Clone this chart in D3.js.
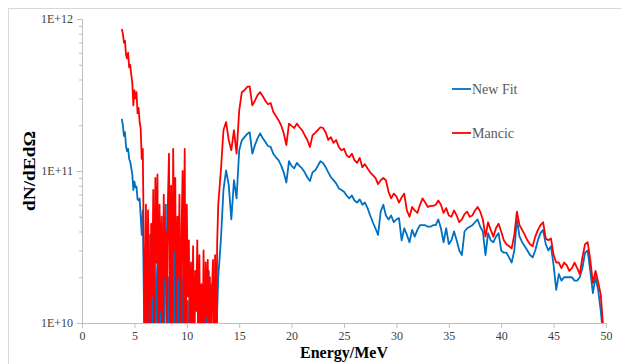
<!DOCTYPE html>
<html><head><meta charset="utf-8">
<script src="https://cdn.jsdelivr.net/npm/d3@7/dist/d3.min.js"></script>
<style>body{margin:0;background:#fff}svg{display:block}</style>
</head><body>
<script>
// ---- data (values in units of 1E+10) ----
const UNIT = 1e10;
const segA = {start: 3.8, step: 0.1};
const segB = {start: 5.9, step: 0.1};
const segC = {start: 13.25, step: 0.25};

const mancicA = [86,80,70,72,58,55,60,48,50,43,38,27,34,30,33,24,26,21,19,12,14];
const newFitA = [22,20,17,18,14.5,13.5,14,12,11.5,10.5,9.5,7.5,8.5,7.8,7.9,6.5,6.4,6.6,5.0,3.8,5.5];

const mancicB = [3.0,0.4,6.0,0.5,5.5,2.0,0.3,4.5,1.5,7.5,0.4,9.0,2.5,9.5,0.5,6.0,1.2,5.0,0.3,7.0,
  2.0,4.0,0.6,6.5,13.0,1.0,8.0,0.4,14.0,3.0,9.0,0.5,5.0,2.0,7.0,0.3,4.0,10.0,1.0,14.0,
  0.4,6.0,1.5,3.5,0.4,2.5,0.8,3.2,0.3,2.2,1.2,3.5,0.5,2.8,0.4,1.8,0.6,3.0,0.3,2.5,
  1.1,2.6,0.4,2.0,0.7,1.6,2.6,0.3,2.8,0.5,3.4,6.0];
const newFitB = [1.5,0.3,3.0,0.4,2.5,0.5,3.8,0.3,2.0,0.6,3.0,0.4,1.8,2.5,0.3,2.2,0.5,1.6,3.2,0.4,
  2.6,6.0,0.5,2.0,0.4,3.0,1.0,5.0,0.3,3.5,1.0,4.5,0.4,2.0,0.5,3.0,0.3,1.6,2.5,0.4,
  2.2,0.5,1.4,0.3,0.8,0.3,0.6,0.3,0.5,0.3,0.7,0.3,0.6,0.3,0.5,0.3,0.6,0.3,0.8,0.3,
  1.6,0.4,2.2,0.3,1.8,0.4,0.7,0.3,0.6,0.3,1.2,2.0];

const mancicC = [10,18.6,21,16,13.7,18.6,13,25,33,34,35.7,36,27,29,31.6,33,31,29,27.5,28,
  24.5,23,21.6,20,17.7,14.8,20.5,19.8,19.2,20.5,19.4,18.6,17.2,16,14.4,17.2,17.8,18.6,19.4,19.2,
  18,16,16.7,15.3,16,14.4,13.7,14,12.7,12.3,13,11.8,11.3,12.2,10.6,11.1,10.4,9.8,9.4,9.0,
  8.2,8.7,9.0,8.7,7.3,6.6,7.1,6.8,6.2,6.7,7.1,5.5,5.0,5.8,5.5,5.3,6.0,6.6,6.2,5.8,
  5.9,5.9,6.0,6.4,6.0,5.3,5.7,5.1,5.0,5.5,5.1,4.6,4.8,5.2,5.4,5.0,5.1,5.5,5.8,5.4,
  4.8,3.7,4.6,4.1,3.7,4.2,4.5,4.0,3.5,3.3,3.2,3.1,3.8,5.4,4.4,4.1,3.8,3.5,3.3,3.2,
  3.7,4.1,4.4,4.6,3.6,3.5,3.6,2.8,2.5,2.5,2.3,2.5,2.4,2.2,2.3,2.5,2.3,2.1,2.7,3.3,
  3.4,2.6,1.83,2.2,1.86,1.53,0.9];
const newFitC = [3.5,7.5,10.1,8.1,4.8,8.7,6.6,13.7,15.9,16.7,17.5,18,13,14.8,16.4,17.7,16.4,15.5,14.6,14.4,
  13,12.3,11.8,10.9,9.8,8.4,11.6,10.8,10.4,11.3,10.8,10.4,9.8,9.1,8.6,9.8,10.1,10.8,11.6,11.3,
  10.6,9.8,9.1,8.7,8.3,7.7,7.5,7.3,6.9,6.6,6.9,6.4,6.2,6.5,6.0,6.2,5.7,5.1,4.6,4.2,
  3.8,5.4,6.0,5.1,4.8,5.1,4.6,4.8,4.9,3.5,4.2,3.8,3.4,4.1,3.7,4.1,4.4,4.4,4.4,4.3,
  4.3,4.4,4.4,4.8,4.2,3.4,4.2,3.3,3.5,4.0,3.5,3.0,2.8,4.0,4.2,4.3,4.4,4.6,4.8,4.3,
  4.0,2.8,3.9,3.5,3.4,3.7,3.9,3.0,2.9,2.9,2.7,2.5,3.0,4.8,3.7,3.4,3.2,3.0,2.8,2.7,
  3.0,3.5,3.9,4.1,3.3,3.0,3.2,2.4,1.65,2.1,1.9,2.0,2.0,2.0,2.0,1.9,1.9,2.0,2.3,2.9,
  3.0,2.2,1.57,2.0,1.65,1.2,0.8];

const xTicks = [0,5,10,15,20,25,30,35,40,45,50];
const yTicks = [1e10, 1e11, 1e12];
const yTickLabels = ["1E+10","1E+11","1E+12"];
const seriesNames = ["New Fit","Mancic"];
const seriesColors = ["#0070C0","#FF0000"];

function build(seg, vals){ return vals.map((v,i)=>({e: seg.start + i*seg.step, v: v*UNIT})); }
const newFit = [...build(segA,newFitA), ...build(segB,newFitB), ...build(segC,newFitC)];
const mancic = [...build(segA,mancicA), ...build(segB,mancicB), ...build(segC,mancicC)];

// ---- layout ----
const W = 621, H = 364;
const L = 82, R = 606, T = 19, B = 323;
const SERIF = "'Liberation Serif','Times New Roman',serif";
const svg = d3.select("body").append("svg").attr("width",W).attr("height",H);
svg.append("rect").attr("x",8.5).attr("y",8.5).attr("width",W).attr("height",H)
  .attr("fill","#fff").attr("stroke","#d9d9d9");

const x = d3.scaleLinear().domain([0,50]).range([L,R]);
const y = d3.scaleLog().domain([1e10,1e12]).range([B,T]);

svg.append("clipPath").attr("id","clip").append("rect")
  .attr("x",L).attr("y",T).attr("width",R-L+4).attr("height",B-T);

// axes
const axisColor = "#bfbfbf", textColor = "#404040";
svg.append("g").attr("transform",`translate(0,${B})`)
  .call(d3.axisBottom(x).tickValues(xTicks).tickSize(5).tickPadding(3).tickFormat(d3.format("d")))
  .attr("font-family",SERIF).attr("font-size",12);
const yMinor = [];
for (let d=1e10; d<1e12; d*=10) for (let k=2;k<=9;k++) yMinor.push(d*k);
svg.append("g").attr("transform",`translate(${L},0)`)
  .call(d3.axisLeft(y).tickValues(yTicks).tickSize(5).tickPadding(4).tickFormat((d,i)=>yTickLabels[i]))
  .attr("font-family",SERIF).attr("font-size",12);
svg.append("g").attr("transform",`translate(${L},0)`)
  .call(d3.axisLeft(y).tickValues(yMinor).tickSize(3).tickFormat(""))
  .select(".domain").remove();
svg.selectAll(".domain, .tick line").attr("stroke",axisColor);
svg.selectAll(".tick text").attr("fill",textColor);

// lines
const line = d3.line().x(d=>x(d.e)).y(d=>y(Math.max(d.v, 1e9)));
const g = svg.append("g").attr("clip-path","url(#clip)");
[newFit, mancic].forEach((s,i)=>{
  g.append("path").datum(s).attr("d",line).attr("fill","none")
    .attr("stroke",seriesColors[i]).attr("stroke-width",1.8).attr("stroke-linejoin","round");
});

// titles
svg.append("text").attr("transform",`translate(35,${(T+B)/2}) rotate(-90)`)
  .attr("text-anchor","middle").attr("font-family",SERIF)
  .attr("font-weight","bold").attr("font-size",16).attr("fill","#000")
  .attr("textLength",80).attr("lengthAdjust","spacingAndGlyphs").text("dN/dEdΩ");
svg.append("text").attr("x",344).attr("y",358)
  .attr("text-anchor","middle").attr("font-family",SERIF)
  .attr("font-weight","bold").attr("font-size",16).attr("fill","#000").text("Energy/MeV");

// legend
const leg = svg.append("g");
[89,133].forEach((ly,i)=>{
  leg.append("line").attr("x1",452).attr("x2",471).attr("y1",ly).attr("y2",ly)
    .attr("stroke",seriesColors[i]).attr("stroke-width",1.8);
  leg.append("text").attr("x",472).attr("y",ly+5).attr("font-family",SERIF)
    .attr("font-size",14).attr("fill","#595959").text(seriesNames[i]);
});
</script>
</body></html>
